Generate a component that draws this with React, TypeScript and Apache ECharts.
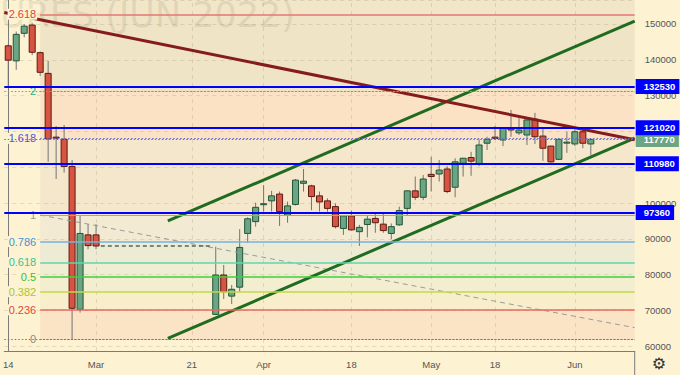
import React, { useEffect, useRef } from "react";
import * as echarts from "echarts";

// ---- data ----
const dates = [
  "2022-02-14", "2022-02-15", "2022-02-16", "2022-02-17", "2022-02-18", "2022-02-21", "2022-02-22", "2022-02-23", "2022-02-24", "2022-02-25", "2022-02-28", "2022-03-01",
  "2022-03-02", "2022-03-03", "2022-03-04", "2022-03-09", "2022-03-10", "2022-03-11", "2022-03-14", "2022-03-15", "2022-03-16", "2022-03-17", "2022-03-18",
  "2022-03-21", "2022-03-22", "2022-03-23",
  "2022-03-24", "2022-03-25", "2022-03-28", "2022-03-29", "2022-03-30", "2022-03-31",
  "2022-04-01", "2022-04-04", "2022-04-05", "2022-04-06", "2022-04-07", "2022-04-08", "2022-04-11", "2022-04-12", "2022-04-13", "2022-04-14", "2022-04-15",
  "2022-04-18", "2022-04-19", "2022-04-20", "2022-04-21", "2022-04-22", "2022-04-25", "2022-04-26", "2022-04-27", "2022-04-28", "2022-04-29",
  "2022-05-04", "2022-05-05", "2022-05-06", "2022-05-11", "2022-05-12", "2022-05-13", "2022-05-16", "2022-05-17", "2022-05-18",
  "2022-05-19", "2022-05-20", "2022-05-23", "2022-05-24", "2022-05-25", "2022-05-26", "2022-05-27", "2022-05-30", "2022-05-31",
  "2022-06-01", "2022-06-02", "2022-06-03",
  "2022-06-06", "2022-06-07", "2022-06-08", "2022-06-09", "2022-06-10",
];

const N = null;
const opens = [
  143900, 139700, 147400, 149700, 142000, 136200, 118400, 117800, 110200, 70300, 91100, 91100,
  N, N, N, N, N, N, N, N, N, N, N, N, N, N,
  68900, 79900, 74000, 76500, 91500, 94800,
  99700, 100600, 102500, 96600, 99600, 105500, 104800, 102000, 100600, 99000, 92900,
  96400, 92000, 94000, 95700, 94100, 91500, 93900, 98500, 103400, 101600,
  108000, 108100, 109500, 104400, 111100, 112700, 110900, 116700, 118400,
  117600, 121000, 119600, 119000, 123400, 118700, 115900, 112200, 116900,
  116500, 119900, 116500,
  N, N, N, N, N,
];
const closes = [
  139900, 147100, 149400, 142100, 136500, 117900, 118100, 110200, 70600, 91500, 88100, 88000,
  N, N, N, N, N, N, N, N, N, N, N, N, N, N,
  79900, 75200, 75900, 87600, 95600, 98800,
  99800, 102000, 97600, 99200, 106400, 106100, 101800, 100300, 98500, 93400, 96400,
  92500, 93200, 95500, 94500, 92300, 93400, 97900, 103400, 101600, 106700,
  107400, 109200, 103200, 111500, 112500, 111700, 116200, 117800, 118000,
  120900, 120400, 120400, 123200, 118500, 115300, 111500, 117800, 117000,
  119900, 116700, 117770,
  N, N, N, N, N,
];
const lows = [
  132700, 137200, 146300, 141300, 135500, 111500, 106700, 108500, 62000, 69400, 87100, 87100,
  N, N, N, N, N, N, N, N, N, N, N, N, N, N,
  68700, 73200, 71800, 75200, 88900, 93400,
  97600, 97600, 93600, 94500, 99300, 103200, 98000, 97600, 97600, 92900, 91100,
  92300, 88000, 90400, 91700, 91700, 89900, 93600, 96600, 100800, 100800,
  103200, 106000, 102700, 101600, 107400, 107600, 110300, 114800, 117600,
  115900, 118500, 119000, 116200, 116500, 111800, 111300, 112000, 114000,
  115900, 115300, 113400,
  N, N, N, N, N,
];
const highs = [
  144400, 147900, 150000, 150200, 142300, 139700, 121500, 121800, 112000, 96500, 94100, 94100,
  N, N, N, N, N, N, N, N, N, N, N, N, N, N,
  87800, 82700, 77100, 92700, 96000, 100100,
  105000, 103400, 103200, 100400, 106700, 109500, 105100, 103200, 101300, 99900, 96600,
  97900, 93900, 96600, 97300, 97300, 94300, 99000, 103500, 107400, 107800,
  112900, 112000, 110300, 112500, 112600, 114300, 117800, 118500, 121500,
  121000, 126000, 123700, 123700, 125200, 120900, 116000, 117900, 119900,
  120600, 120900, 117800,
  N, N, N, N, N,
];

const tickDates = ["2022-02-14", "2022-03-01", "2022-03-21", "2022-04-01", "2022-04-18", "2022-05-04", "2022-05-18", "2022-06-01"];
const tickTexts = ["14", "Mar", "21", "Apr", "18", "May", "18", "Jun"];

const priceLevels = [132530, 121020, 110980, 97360];
const lastPrice = 117770;

// Fibonacci retracement anchored on bar index 4 (Feb 18)
const fibAnchorIndex = 4;
const fibLow = 62000;
const fibHigh = 96650;
const fibRatios = [0, 0.236, 0.382, 0.5, 0.618, 0.786, 1, 1.618, 2, 2.618];
const fibLabels = ["0", "0.236", "0.382", "0.5", "0.618", "0.786", "1", "1.618", "2", "2.618"];

// trend lines: [barIndex, price]
const resistanceLine = [[-0.5, 153230], [78.5, 117660]];
const channelUpper = [[20, 95000], [78.5, 150810]];
const channelLower = [[20, 62220], [78.5, 118100]];
const fanLine = [[4, 96650], [78.5, 65180]];
const gapLine = [[11.6, 88000], [25.3, 88000]];

const yMin = 58670;
const yMax = 156700;

// ---- styles ----
const FONT = "Liberation Sans, Arial, sans-serif";
const PAGE_BG = "#fdf2d2";
const fibLineColors = ["#777777", "#e8685c", "#c3d84a", "#3fcf3f", "#5fd6ae", "#78b2dd", "#a3a3a3", "#6a6ad8", "#3dbb8e", "#e87474"];
const fibTextColors = ["#888888", "#e2483c", "#a8c535", "#2fc42f", "#34c595", "#3e95d6", "#999999", "#5555d0", "#26b07f", "#d9463e"];
// fill between level i and i+1 (last one: above 2.618)
const fibBandColors = [
  "rgba(243,172,148,0.2)",
  "rgba(228,227,173,0.2)",
  "rgba(198,227,193,0.2)",
  "rgba(188,222,208,0.2)",
  "rgba(178,212,218,0.2)",
  "rgba(198,207,208,0.2)",
  "rgba(213,192,173,0.2)",
  "rgba(243,167,143,0.2)",
  "rgba(183,177,143,0.2)",
  "rgba(193,187,158,0.2)",
];

export default function App() {
  const ref = useRef<HTMLDivElement>(null);

  useEffect(() => {
    if (!ref.current) return;
    const chart = echarts.init(ref.current, undefined, { renderer: "svg" });

    const candleData: any[] = [];
    dates.forEach((d, i) => {
      if (opens[i] != null) candleData.push([i, opens[i], closes[i], lows[i], highs[i]]);
    });

    const fibValues = fibRatios.map((r) => fibLow + r * (fibHigh - fibLow));
    const xEnd = dates.length - 0.5;

    const bandData: any[] = [];
    for (let i = 0; i < fibValues.length; i++) {
      const lo = fibValues[i];
      const hi = i + 1 < fibValues.length ? fibValues[i + 1] : yMax;
      bandData.push([
        { coord: [fibAnchorIndex, lo], itemStyle: { color: fibBandColors[i] } },
        { coord: [xEnd, hi] },
      ]);
    }

    const dottedIdx = new Set([0, 7, 8]);
    const fibLineData: any[] = fibValues.map((v, i) => [
      {
        name: fibLabels[i],
        coord: [fibAnchorIndex, v],
        lineStyle: {
          color: fibLineColors[i],
          width: dottedIdx.has(i) ? 1.2 : i === 6 ? 1 : 1.6,
          type: dottedIdx.has(i) ? [1.5, 2] : "solid",
        },
        label: {
          show: true,
          position: "start",
          formatter: "{b}",
          color: fibTextColors[i],
          fontSize: 11,
          fontFamily: FONT,
          distance: 3,
          backgroundColor: PAGE_BG,
          padding: [0, 1, 0, 1],
        },
      },
      { coord: [xEnd, v] },
    ]);

    const tickSet = new Set(tickDates.map((d) => dates.indexOf(d)));
    const tickMap: Record<string, string> = {};
    tickDates.forEach((d, i) => (tickMap[d] = tickTexts[i]));

    const trendSeries = (data: number[][], color: string, width: number, type: any, extra: any = {}) => ({
      type: "line",
      xAxisIndex: 1,
      yAxisIndex: 0,
      data,
      symbol: "none",
      silent: true,
      lineStyle: { color, width, type },
      z: 3,
      ...extra,
    });

    const boxLabel = (text: string, bg: string) => ({
      show: true,
      position: "end",
      formatter: text,
      color: "#ffffff",
      backgroundColor: bg,
      fontSize: 9.5,
      fontWeight: "bold",
      fontFamily: FONT,
      padding: [3, 4, 2, 8],
      distance: 1,
    });

    const option: any = {
      animation: false,
      backgroundColor: PAGE_BG,
      textStyle: { fontFamily: FONT },
      grid: { left: -1.3, right: 45.3, top: 0, bottom: 24 },
      xAxis: [
        {
          type: "category",
          data: dates,
          boundaryGap: true,
          axisLine: { show: true, lineStyle: { color: "#7a7a7a", width: 1 } },
          axisTick: { show: false },
          axisLabel: {
            interval: (index: number) => tickSet.has(index),
            formatter: (v: string) => tickMap[v] || "",
            color: "#555555",
            fontSize: 9.5,
            margin: 8,
            fontFamily: FONT,
          },
          splitLine: { show: false },
        },
        {
          type: "value",
          min: -0.5,
          max: xEnd,
          show: false,
          splitLine: { show: false },
        },
      ],
      yAxis: {
        type: "value",
        position: "right",
        min: yMin,
        max: yMax,
        minInterval: 10000,
        maxInterval: 10000,
        axisLine: { show: true, lineStyle: { color: "#7a7a7a", width: 1 } },
        axisTick: { show: false },
        axisLabel: {
          color: "#555555",
          fontSize: 9.5,
          margin: 10,
          fontFamily: FONT,
          showMinLabel: false,
          showMaxLabel: false,
          formatter: (v: number) => String(Math.round(v)),
        },
        splitLine: { show: true, lineStyle: { color: "rgba(140,130,100,0.22)", type: [4, 4] } },
      },
      graphic: [
        {
          type: "text",
          x: 295,
          y: 15,
          z: 0,
          silent: true,
          style: {
            text: "RTS FUTURES (JUN 2022)",
            fill: "rgba(110,100,70,0.14)",
            font: "35px 'DejaVu Sans', sans-serif",
            textAlign: "right",
            textVerticalAlign: "middle",
          },
        },
        {
          type: "line",
          silent: true,
          shape: { x1: 634.7, y1: 351, x2: 634.7, y2: 375 },
          style: { stroke: "#7a7a7a", lineWidth: 1 },
        },
        {
          type: "text",
          x: 659,
          y: 363,
          silent: true,
          style: {
            text: "\u2699",
            fill: "#333",
            font: "16px 'DejaVu Sans', sans-serif",
            textAlign: "center",
            textVerticalAlign: "middle",
          },
        },
      ],
      series: [
        trendSeries(fanLine, "#9a9a9a", 1, [5, 4], {
          z: 3,
          markArea: { silent: true, z: -1, data: bandData },
          markLine: {
            silent: true,
            symbol: ["none", "none"],
            z: 4,
            data: fibLineData,
          },
        }),
        {
          type: "line",
          xAxisIndex: 1,
          yAxisIndex: 0,
          data: gapLine,
          symbol: "none",
          silent: true,
          lineStyle: { color: "#4f6a55", width: 1.3, type: [4, 3] },
          z: 3,
          markLine: {
            silent: true,
            symbol: ["none", "none"],
            z: 1,
            label: { show: false },
            lineStyle: { color: "rgba(140,130,100,0.22)", type: [4, 4], width: 1 },
            data: tickDates.map((d) => ({ xAxis: dates.indexOf(d) })),
          },
        },
        {
          type: "custom",
          xAxisIndex: 0,
          yAxisIndex: 0,
          data: candleData,
          encode: { x: 0, y: [1, 2, 3, 4] },
          z: 2,
          silent: true,
          renderItem: (params: any, api: any) => {
            const idx = api.value(0);
            const o = api.value(1);
            const c = api.value(2);
            const l = api.value(3);
            const h = api.value(4);
            const pO = api.coord([idx, o]);
            const pC = api.coord([idx, c]);
            const pL = api.coord([idx, l]);
            const pH = api.coord([idx, h]);
            const x = pO[0];
            const w = 6;
            const up = c >= o;
            const top = Math.min(pO[1], pC[1]);
            const bot = Math.max(pO[1], pC[1]);
            return {
              type: "group",
              children: [
                {
                  type: "line",
                  shape: { x1: x, y1: pH[1], x2: x, y2: pL[1] },
                  style: { stroke: "#737375", lineWidth: 1 },
                },
                {
                  type: "rect",
                  shape: { x: x - w / 2, y: top, width: w, height: Math.max(bot - top, 1) },
                  style: {
                    fill: up ? "#6ba583" : "#d75442",
                    stroke: up ? "#225437" : "#5b1a13",
                    lineWidth: 1,
                  },
                },
              ],
            };
          },
        },
        trendSeries(channelUpper, "#1f6b1f", 3, "solid"),
        trendSeries(channelLower, "#1f6b1f", 3, "solid"),
        trendSeries(resistanceLine, "#861b1b", 3, "solid", {
          markLine: {
            silent: true,
            symbol: ["none", "none"],
            z: 6,
            data: [
              {
                yAxis: fibValues[0],
                lineStyle: { color: "#777777", width: 1.2, type: [1.5, 2] },
                label: { show: false },
              },
              {
                yAxis: fibValues[8],
                lineStyle: { color: "#3dbb8e", width: 1.2, type: [1.5, 2] },
                label: { show: false },
              },
              {
                yAxis: lastPrice,
                lineStyle: { color: "#6a6ad8", width: 1.2, type: [1.5, 2] },
                label: boxLabel(String(lastPrice), "#6ba583"),
              },
              ...priceLevels.map((p) => ({
                yAxis: p,
                lineStyle: { color: "#0000ff", width: 2, type: "solid" },
                label: boxLabel(String(p), "#0000ff"),
              })),
            ],
          },
        }),
      ],
    };

    chart.setOption(option);
    return () => chart.dispose();
  }, []);

  return (
    <div
      ref={ref}
      style={{ position: "fixed", left: 0, top: 0, width: 680, height: 375, background: PAGE_BG }}
    />
  );
}
